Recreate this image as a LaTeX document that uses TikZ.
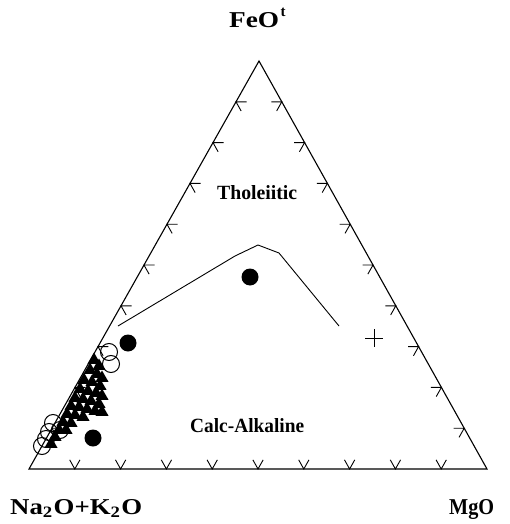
\documentclass[tikz,border=0pt]{standalone}
\usepackage{fontspec}
\setmainfont{Liberation Serif}
\usepackage{graphicx}
\usetikzlibrary{calc}
\tikzset{
  frame/.style={line width=1.1pt, line join=miter},
  tickmark/.style={line width=0.9pt},
  bound/.style={line width=0.9pt},
  lbl/.style={inner sep=0pt, anchor=base west, font=\bfseries},
  fdot/.style={fill=black},
  odot/.style={draw=black, line width=1pt},
  ftri/.style={fill=black},
  crossmark/.style={line width=1pt},
}
\begin{document}
\begin{tikzpicture}[x=1pt,y=-1pt]
\useasboundingbox (0,0) rectangle (510,524);
\coordinate (A) at (29,469);
\coordinate (B) at (487,469);
\coordinate (C) at (259,61);
% frame
\draw[frame] (A) -- (B) -- (C) -- cycle;
% tick marks
\foreach \k in {1,...,9}{
  \draw[tickmark] ($(A)!\k/10!(B)$) ++(5.16,-9.15) -- ++(-5.16,9.15) -- ++(-5.12,-9.17);
  \draw[tickmark] ($(A)!\k/10!(C)$) ++(10.5,0) -- ++(-10.5,0) -- ++(5.12,9.17);
  \draw[tickmark] ($(B)!\k/10!(C)$) ++(-10.5,0) -- ++(10.5,0) -- ++(-5.16,9.15);
}
% boundary line
\coordinate (b1) at (118,326);
\coordinate (b2) at (235,256);
\coordinate (b3) at (258,245);
\coordinate (b4) at (279,253);
\coordinate (b5) at (339,326);
\draw[bound] (b1) -- (b2) -- (b3) -- (b4) -- (b5);
% filled triangles
\foreach \x/\y in {94/360,99/366,
  90/370,97/374,102/378,
  84/380,92/382,100/386,
  80/389,88/391,96/393,102/396,
  75/398,83/399,91/401,99/404,
  71/406,79/407,87/409,95/411,102/412,
  67/414,75/415,83/417,
  63/422,71/423,
  59/430,66/430,
  55/437,
  51/444}{
  \fill[ftri] (\x,\y-7.5) -- (\x+6.5,\y+3.8) -- (\x-6.5,\y+3.8) -- cycle;
}
% open circles
\foreach \x/\y in {109/352,111/364,53/423,60/430,49/432,46/439,42/446}{
  \draw[odot] (\x,\y) circle (8.5);
}
% filled circles
\foreach \x/\y in {250/277,128/343,93/438}{
  \fill[fdot] (\x,\y) circle (8.5);
}
% cross
\coordinate (p) at (374,338);
\draw[crossmark] ($(p)+(-9,0)$) -- ($(p)+(9,0)$) ($(p)+(0,-9)$) -- ($(p)+(0,9)$);
% labels
\node[lbl] (tho) at (217,199) {\resizebox{80pt}{14pt}{Tholeiitic}};
\node[lbl] (calc) at (190,432) {\resizebox{114pt}{14pt}{Calc-Alkaline}};
\node[lbl] (feo) at (229,28) {\resizebox{50pt}{15pt}{FeO}\hspace{1.5pt}\raisebox{11pt}{\fontsize{15}{15}\selectfont t}};
\node[lbl] (nak) at (10,514) {\resizebox{132pt}{15pt}{Na\textsubscript{2}O+K\textsubscript{2}O}};
\node[lbl] (mgo) at (449,514) {\resizebox{45pt}{15pt}{MgO}};
\end{tikzpicture}
\end{document}
